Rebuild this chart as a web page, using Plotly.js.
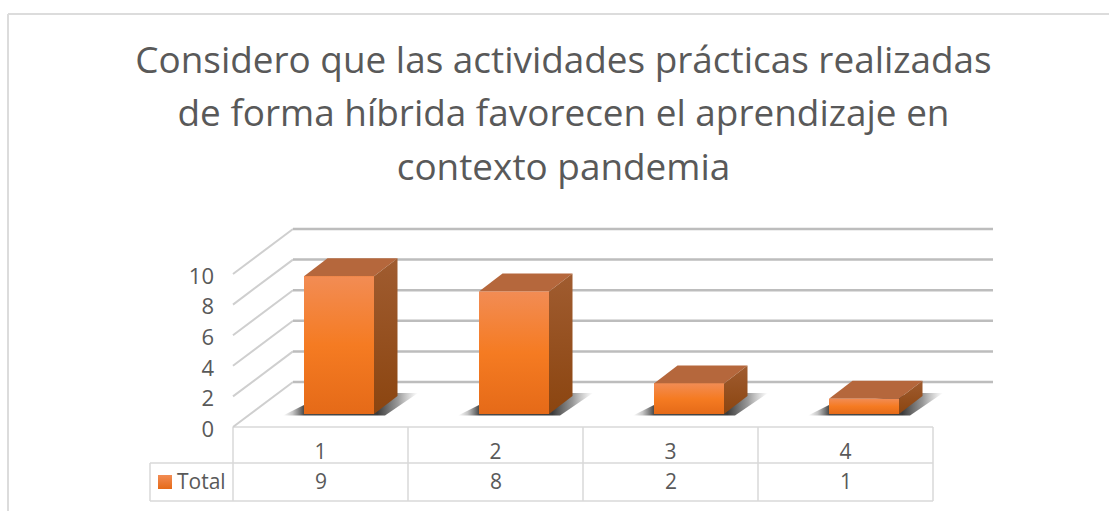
<!DOCTYPE html>
<html>
<head>
<meta charset="utf-8">
<script src="https://cdn.plot.ly/plotly-3.0.1.min.js"></script>
<style>html,body{margin:0;padding:0;background:#fff}#chart{width:1109px;height:511px}</style>
</head>
<body>
<div id="chart"></div>
<script>
const titleLines = ["Considero que las actividades prácticas realizadas", "de forma híbrida favorecen el aprendizaje en", "contexto pandemia"];
const categories = [1, 2, 3, 4];
const totals = [9, 8, 2, 1];
const yTicks = [0, 2, 4, 6, 8, 10];
const seriesName = "Total";

const FONT = '"Open Sans", "Noto Sans", sans-serif';
const W = 1109, H = 511;
const xUnit = 175, yUnit = 15.3, x0Px = 233, y0Px = 427;
const toX = p => (p - x0Px) / xUnit + 0.5;
const toY = p => (y0Px - p) / yUnit;

const wallDx = 60, wallDy = 45, wallRight = 993;
const barW = 70 / xUnit;
const shift = 18.5 / xUnit;
const floorV = 13 / yUnit;
const depthX = 23.5 / xUnit, depthY = 18 / yUnit;

const traces = [];

// Main bars: values go through the axes
traces.push({type: 'bar', x: categories.map(c => c + shift), y: totals, base: totals.map(() => floorV),
  width: barW, marker: {color: '#f57c24'}, name: seriesName, showlegend: false, hoverinfo: 'skip'});

// Walls: side rules and back rules at each tick
yTicks.forEach(t => {
  traces.push({type: 'scatter', mode: 'lines', hoverinfo: 'skip', showlegend: false,
    x: [toX(x0Px), toX(x0Px + wallDx)], y: [t, t + wallDy / yUnit],
    line: {color: '#cfcfcf', width: 2}});
  traces.push({type: 'scatter', mode: 'lines', hoverinfo: 'skip', showlegend: false,
    x: [toX(x0Px + wallDx), toX(wallRight)], y: [t + wallDy / yUnit, t + wallDy / yUnit],
    line: {color: '#bdbdbd', width: 2.5}});
});

function face(xs, ys, fill) {
  return Object.assign({type: 'scatter', mode: 'lines', fill: 'toself', hoverinfo: 'skip', showlegend: false,
    x: xs.concat(xs[0]), y: ys.concat(ys[0]), line: {width: 0}}, fill);
}

categories.forEach((c, i) => {
  const l = c + shift - barW / 2, r = c + shift + barW / 2;
  const b = floorV, t = floorV + totals[i];
  // floor shadow
  const px = v => v / xUnit, py = v => v / yUnit;
  const s0 = l - px(21), s1 = l + px(114);
  traces.push(face(
    [s0, l, l + px(93), s1, l + px(81), l],
    [b - py(1.5), b + py(9), b + py(21), b + py(21), b - py(1.5), b - py(1.5)],
    {fillgradient: {type: 'horizontal', start: s0, stop: s1, colorscale: [
      [0, 'rgba(70,70,70,0)'], [0.07, 'rgba(70,70,70,0.3)'], [0.155, 'rgba(55,55,55,0.9)'],
      [0.7, 'rgba(50,50,50,0.95)'], [0.85, 'rgba(70,70,70,0.55)'], [1, 'rgba(110,110,110,0)']]}}));
  // top face
  traces.push(face([l, r, r + depthX, l + depthX], [t, t, t + depthY, t + depthY], {fillcolor: '#b5673c'}));
  // side face
  traces.push(face([r, r + depthX, r + depthX, r], [t, t + depthY, b + depthY, b],
    {fillgradient: {type: 'vertical', start: t + depthY, stop: b, colorscale: [[0, '#a05c30'], [1, '#8b4510']]}}));
  // front face
  traces.push(face([l, r, r, l], [b, b, t, t],
    {fillgradient: {type: 'vertical', start: t, stop: b, colorscale: [[0, '#f28c54'], [0.5, '#f57b22'], [1, '#e56a18']]}}));
});

// legend key in the table
traces.push(face([toX(158), toX(172), toX(172), toX(158)], [toY(489), toY(489), toY(475), toY(475)],
  {fillgradient: {type: 'vertical', start: toY(475), stop: toY(489), colorscale: [[0, '#f28c54'], [1, '#e56a18']]}}));

// Table and frame rules
const tableColor = '#d9d9d9';
const rule = (x0, y0, x1, y1, color, width) => ({type: 'line', xref: 'paper', yref: 'paper', layer: 'below',
  x0: x0 / W, x1: x1 / W, y0: 1 - y0 / H, y1: 1 - y1 / H, line: {color: color, width: width}});
const shapes = [
  rule(8, 14, W, 14, '#dcdcdc', 2),
  rule(8, 14, 8, H, '#dcdcdc', 2),
  rule(233, 427, 933, 427, tableColor, 1.5),
  rule(150, 463, 933, 463, tableColor, 1.5),
  rule(150, 501, 933, 501, tableColor, 1.5),
  rule(150, 463, 150, 501, tableColor, 1.5)
];
[233, 408, 583, 758, 933].forEach(x => shapes.push(rule(x, 427, x, 501, tableColor, 1.5)));

const textColor = '#595959';
const annotations = totals.map((v, i) => ({x: categories[i], xref: 'x', y: toY(481), yref: 'y', text: String(v),
  showarrow: false, xanchor: 'center', yanchor: 'middle', font: {family: FONT, size: 21, color: textColor}}));
annotations.push({x: toX(177), xref: 'x', y: toY(481), yref: 'y', text: seriesName, showarrow: false,
  xanchor: 'left', yanchor: 'middle', xshift: -2, font: {family: FONT, size: 21, color: textColor}});

const layout = {
  width: W, height: H, autosize: false,
  margin: {l: 0, r: 0, t: 0, b: 0, pad: 0},
  paper_bgcolor: '#ffffff', plot_bgcolor: 'rgba(0,0,0,0)',
  showlegend: false, bargap: 0,
  title: {
    text: titleLines.map(s => '<span style="font-size:36.9px">' + s + '</span>').join('<br>'),
    x: 563.5 / W, xanchor: 'center', y: 1 - 73 / H, yanchor: 'top',
    font: {family: FONT, size: 41, color: textColor}
  },
  xaxis: {
    range: [toX(0), toX(W)], anchor: 'free', position: 1 - y0Px / H, showgrid: false, zeroline: false, showline: false,
    tickmode: 'array', tickvals: categories, ticktext: categories.map(String), ticklen: 0, ticklabelstandoff: 10,
    tickfont: {family: FONT, size: 21, color: textColor}, fixedrange: true
  },
  yaxis: {
    range: [toY(H), toY(0)], anchor: 'free', position: 214 / W, showgrid: false, zeroline: false, showline: false,
    tickmode: 'array', tickvals: yTicks, ticktext: yTicks.map(String), ticklen: 0, ticklabelshift: 2,
    tickfont: {family: FONT, size: 22, color: textColor}, fixedrange: true
  },
  shapes: shapes,
  annotations: annotations
};

Plotly.newPlot('chart', traces, layout, {displayModeBar: false, staticPlot: true});
</script>
</body>
</html>
